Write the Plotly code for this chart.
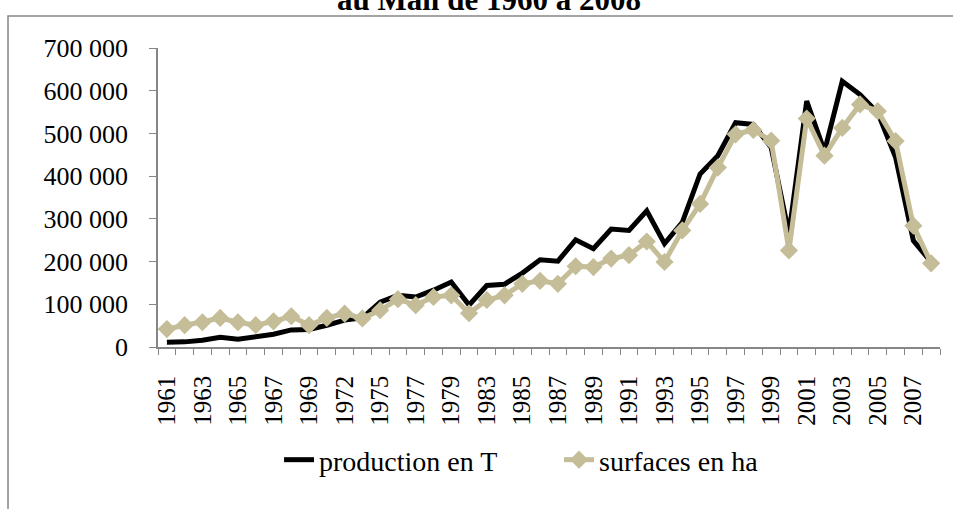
import plotly.graph_objects as go

years = ["1961", "1962", "1963", "1964", "1965", "1966", "1967", "1968", "1969", "1970",
         "1972", "1973", "1975", "1976", "1977", "1978", "1979", "1981", "1983", "1984",
         "1985", "1986", "1987", "1988", "1989", "1990", "1991", "1992", "1993", "1994",
         "1995", "1996", "1997", "1998", "1999", "2000", "2001", "2002", "2003", "2004",
         "2005", "2006", "2007", "2008"]

production = [11000, 12000, 16000, 23000, 18000, 23000, 30000, 40000, 41000, 51000,
              63000, 68000, 105000, 121000, 117000, 133000, 152000, 98000, 144000, 147000,
              173000, 204000, 201000, 251000, 230000, 276000, 273000, 319000, 242000, 292000,
              405000, 448000, 525000, 521000, 467000, 265000, 576000, 458000, 622000, 591000,
              548000, 444000, 249000, 199000]

surfaces = [42000, 51000, 58000, 68000, 58000, 51000, 60000, 72000, 51000, 68000,
            78000, 67000, 86000, 112000, 98000, 117000, 121000, 79000, 110000, 121000,
            148000, 155000, 148000, 189000, 187000, 207000, 215000, 247000, 199000, 273000,
            335000, 420000, 498000, 508000, 483000, 226000, 535000, 448000, 513000, 568000,
            552000, 482000, 284000, 196000]

y_ticks = [0, 100000, 200000, 300000, 400000, 500000, 600000, 700000]
y_tick_text = ["0", "100 000", "200 000", "300 000", "400 000",
               "500 000", "600 000", "700 000"]

title_text = "au Mali de 1960 à 2008"
name_prod = "production en T"
name_surf = "surfaces en ha"

FONT = "Liberation Serif"
TAN = "#C4BD97"
GRAY = "#868686"

fig = go.Figure()
fig.add_trace(go.Scatter(x=years, y=production, name=name_prod, mode="lines",
                         line=dict(color="black", width=5)))
fig.add_trace(go.Scatter(x=years, y=surfaces, name=name_surf, mode="lines+markers",
                         line=dict(color=TAN, width=5),
                         marker=dict(symbol="diamond", size=14, color=TAN)))

fig.update_layout(
    width=953, height=509,
    margin=dict(l=158, r=13, t=48, b=162, autoexpand=False),
    paper_bgcolor="white", plot_bgcolor="white",
    font=dict(family=FONT, size=25, color="black"),
    showlegend=True,
    legend=dict(orientation="h", xref="container", yref="container",
                x=0.2928, xanchor="left", y=0.0963, yanchor="middle",
                entrywidth=235, entrywidthmode="pixels",
                font=dict(size=28), traceorder="normal", bgcolor="rgba(0,0,0,0)"),
    shapes=[dict(type="rect", xref="paper", yref="paper",
                 x0=-0.1918, x1=1.06, y0=-0.65, y1=1.107,
                 line=dict(color=GRAY, width=1.5), layer="below")],
    annotations=[dict(text="<b>" + title_text + "</b>", xref="paper", yref="paper",
                      x=0.4233, y=1.096, xanchor="center", yanchor="bottom",
                      showarrow=False, font=dict(size=31, family=FONT))],
)

fig.update_xaxes(type="category", categoryorder="array", categoryarray=years,
                 range=[-0.5, len(years) - 0.5], automargin=False,
                 tickmode="linear", tick0=0, dtick=1, ticklabelstep=2,
                 tickson="boundaries", ticks="outside", ticklen=6, tickcolor=GRAY,
                 tickangle=-90, showline=True, linecolor=GRAY, linewidth=1.5,
                 showgrid=False, zeroline=False, ticklabelstandoff=17,
                 tickfont=dict(size=25, family=FONT))
fig.update_yaxes(range=[0, 700000], tickmode="array", tickvals=y_ticks, ticktext=y_tick_text,
                 automargin=False,
                 ticks="outside", ticklen=7, tickcolor=GRAY,
                 showline=True, linecolor=GRAY, linewidth=1.5,
                 showgrid=False, zeroline=False, ticklabelstandoff=16,
                 tickfont=dict(size=26, family=FONT))

fig.write_html("out.html", config={"displayModeBar": False},
               post_script="document.body.style.margin='0';document.body.style.overflow='hidden';")
